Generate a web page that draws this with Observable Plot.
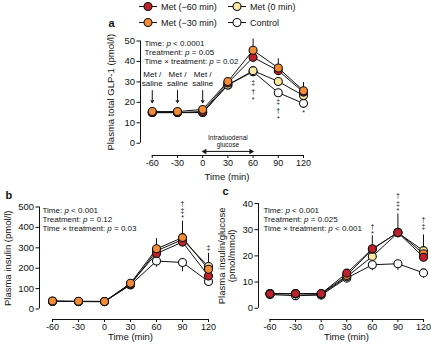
<!DOCTYPE html>
<html><head><meta charset="utf-8">
<script src="https://cdn.jsdelivr.net/npm/d3@7"></script>
<script src="https://cdn.jsdelivr.net/npm/@observablehq/plot@0.6"></script>
<style>
body{margin:0;background:#fff;font-family:"Liberation Sans",Arial,sans-serif;}
#wrap{position:relative;width:431px;height:348px;overflow:hidden;background:#fff;}
#wrap > svg{position:absolute;left:0;top:0;}
.leg{position:absolute;display:flex;align-items:center;font-size:9px;color:#111;white-space:nowrap;}
.leg svg{margin-right:4px;}
</style></head><body><div id="wrap"></div>
<script>
// ---------- data ----------
const times = [-60, -30, 0, 30, 60, 90, 120];
const seriesNames = ["Control", "Met (0 min)", "Met (−60 min)", "Met (−30 min)"];
const seriesColors = ["#ffffff", "#fbe6a2", "#c0222c", "#f28c38"];
const legendOrder = ["Met (−60 min)", "Met (0 min)", "Met (−30 min)", "Control"];

// panel a: plasma total GLP-1 (pmol/l)
const glpControl = [15, 15, 15, 28.5, 35, 24.7, 19.5];
const glpMet0    = [15, 15, 15, 28.5, 35.5, 30.2, 23.3];
const glpMet60   = [15, 15, 15.5, 29.5, 42, 35.5, 25];
const glpMet30   = [15.5, 15.5, 16.5, 30.2, 45.5, 36.8, 25.7];
const glpSemTop  = [0.6, 0.6, 0.6, 1.2, 5.5, 4.5, 4];
const glpSemCtrl = [0.5, 0.5, 0.5, 1, 1.5, 1.5, 1.2];
const glpTicks = [0, 10, 20, 30, 40, 50];
const glpStats = ["Time: p < 0.0001", "Treatment: p = 0.05", "Time × treatment: p = 0.02"];
const glpSymTime = [60, 60, 60, 90, 90, 90, 120];
const glpSymY    = [29.7, 25.3, 21.1, 20.1, 16, 11.9, 14.7];
const glpSymText = ["‡", "†", "*", "‡", "†", "*", "*"];
const metTimes = [-60, -30, 0];

// panel b: plasma insulin (pmol/l)
const insControl = [38, 36, 36, 118, 235, 228, 135];
const insMet0    = [38, 37, 37, 120, 285, 340, 208];
const insMet60   = [37, 37, 36, 124, 272, 328, 162];
const insMet30   = [39, 38, 37, 126, 295, 350, 195];
const insSemTop  = [3, 3, 3, 10, 50, 80, 65];
const insSemCtrl = [3, 3, 3, 8, 30, 45, 12];
const insTicks = [0, 100, 200, 300, 400, 500];
const insStats = ["Time: p < 0.001", "Treatment: p = 0.12", "Time × treatment: p = 0.03"];
const insSymTime = [90, 90, 90, 120];
const insSymY    = [516, 481, 446, 298];
const insSymText = ["†", "‡", "*", "‡"];

// panel c: insulin/glucose (pmol/mmol)
const ratControl = [5.2, 4.8, 5.0, 11.5, 16.6, 17, 13.5];
const ratMet0    = [5.5, 5.5, 5.3, 12, 19.8, 28.8, 22];
const ratMet30   = [5.6, 5.6, 5.5, 12.5, 22.5, 29, 20.8];
const ratMet60   = [5.5, 5.6, 5.6, 13.4, 22.7, 28.9, 19.5];
const ratSemTop  = [0.4, 0.4, 0.4, 1, 5, 7, 6];
const ratSemCtrl = [0.3, 0.3, 0.3, 0.8, 2.3, 2.5, 2];
const ratTicks = [0, 10, 20, 30, 40];
const ratStats = ["Time: p < 0.001", "Treatment: p = 0.025", "Time × treatment: p < 0.001"];
const ratSymTime = [60, 60, 90, 90, 90, 120, 120];
const ratSymY    = [31.3, 28.4, 42.8, 40, 37.2, 33.9, 31];
const ratSymText = ["†", "*", "†", "‡", "*", "†", "‡"];

// ---------- helpers ----------
const FONT = "Liberation Sans, Arial, sans-serif";
function tidy(bySeries, order) {
  const out = [];
  for (const name of order) bySeries[name].forEach((v, i) => out.push({series: name, time: times[i], value: v}));
  return out;
}
function topBars(bySeries, sem, names) {
  return times.map((t, i) => {
    const top = d3.max(names, n => bySeries[n][i]);
    return {time: t, y1: top, y2: top + sem[i]};
  });
}
function ctrlBars(vals, sem) {
  return times.map((t, i) => ({time: t, y1: vals[i], y2: vals[i] - sem[i]}));
}
const metNames = ["Met (0 min)", "Met (−60 min)", "Met (−30 min)"];

function panel(o) {
  const data = tidy(o.series, o.order);
  const syms = o.symTime.map((t, i) => ({time: t, y: o.symY[i], s: o.symText[i]}));
  const marks = [
    Plot.ruleX([o.xmin], {y1: 0, y2: o.yTicks[o.yTicks.length - 1], stroke: "#111", strokeWidth: 1}),
    Plot.ruleY([o.ymin], {x1: times[0], x2: times[times.length - 1], stroke: "#111", strokeWidth: 1}),
    Plot.axisY({ticks: o.yTicks, tickSize: 3.5, tickPadding: 2, fontSize: 9.5, label: null, tickFormat: d => String(d)}),
    Plot.axisX({ticks: times, tickSize: 3, tickPadding: 1.5, fontSize: 9, label: null, tickFormat: d => String(d)}),
    Plot.ruleX(topBars(o.series, o.semTop, metNames), {x: "time", y1: "y1", y2: "y2", stroke: "#111", strokeWidth: 1}),
    Plot.ruleX(ctrlBars(o.series["Control"], o.semCtrl), {x: "time", y1: "y1", y2: "y2", stroke: "#111", strokeWidth: 1}),
    Plot.line(data, {x: "time", y: "value", z: "series", stroke: "#111", strokeWidth: 1}),
    Plot.dot(data, {x: "time", y: "value", fill: "series", stroke: "#111", strokeWidth: 1.1, r: 4}),
    Plot.text(syms, {x: "time", y: "y", text: "s", fontSize: 7, fill: "#111"}),
    Plot.text([o.stats.join("\n")], {frameAnchor: "top-left", dx: o.statDx, dy: o.statDy, lineAnchor: "top", textAnchor: "start", lineHeight: 1.12, fontSize: 8, className: "stats", fill: "#111"}),
    Plot.text([o.letter], {frameAnchor: "top-left", dx: o.letDx, dy: o.letDy, lineAnchor: "middle", fontSize: 11, fontWeight: "bold", fill: "#111"}),
    Plot.text([o.ylabel], {frameAnchor: "left", textAnchor: "middle", lineAnchor: "middle", dx: o.ylDx, dy: o.ylDy, rotate: -90, fontSize: 9.5, lineHeight: 1.1, fill: "#111"}),
    Plot.text(["Time (min)"], {frameAnchor: "bottom", textAnchor: "middle", lineAnchor: "middle", dx: o.xlDx, dy: o.xlDy, fontSize: 9.5, fill: "#111"}),
    ...(o.extra || [])
  ];
  const svg = Plot.plot({
    width: 431, height: 348,
    marginLeft: o.m[0], marginRight: o.m[1], marginTop: o.m[2], marginBottom: o.m[3],
    x: {domain: [o.xmin, 120]},
    y: {domain: [o.ymin, o.yTicks[o.yTicks.length - 1]]},
    color: {domain: seriesNames, range: seriesColors},
    style: {fontFamily: FONT, background: "transparent", overflow: "visible", color: "#111"},
    marks
  });
  svg.querySelectorAll("g[aria-label=text] text").forEach(t => {
    const parts = t.querySelectorAll("tspan");
    const targets = parts.length ? parts : [t];
    targets.forEach(el => {
      if (/ p [<=]/.test(el.textContent)) {
        el.innerHTML = el.textContent.replace(/ p ([<=])/, ' <tspan font-style="italic">p</tspan> $1');
      }
    });
  });
  return svg;
}

const wrap = document.getElementById("wrap");

// panel a
wrap.appendChild(panel({
  series: {"Control": glpControl, "Met (0 min)": glpMet0, "Met (−60 min)": glpMet60, "Met (−30 min)": glpMet30},
  order: ["Control", "Met (0 min)", "Met (−60 min)", "Met (−30 min)"],
  semTop: glpSemTop, semCtrl: glpSemCtrl, yTicks: glpTicks, stats: glpStats,
  symTime: glpSymTime, symY: glpSymY, symText: glpSymText,
  xmin: -74, ymin: -6, m: [140, 128, 40.5, 193],
  statDx: 4, statDy: -1.5, letter: "a", letDx: -32, letDy: -17.5,
  ylabel: "Plasma total GLP-1 (pmol/l)", ylDx: -30, ylDy: -6,
  xlDx: 5, xlDy: 21,
  extra: [
    Plot.text(metTimes, {x: d => d, y: 31.7, text: () => "Met /\nsaline", fontSize: 8, lineHeight: 1.15, fill: "#111"}),
    Plot.arrow(metTimes, {x1: d => d, x2: d => d, y1: 25.8, y2: 19.8, headLength: 4, strokeWidth: 1, stroke: "#111"}),
    Plot.text(["Intraduodenal\nglucose"], {x: 30, y: 1, fontSize: 6.5, lineHeight: 1.15, fill: "#111"}),
    Plot.ruleY([-4], {x1: 2, x2: 58, stroke: "#111", strokeWidth: 1}),
    Plot.dot([0, 60], {x: d => d === 0 ? 2.5 : 57.5, y: -4, symbol: "triangle2", r: 2.6, rotate: d => d === 0 ? -90 : 90, fill: "#111", stroke: "none"})
  ]
}));

// panel b
wrap.appendChild(panel({
  series: {"Control": insControl, "Met (0 min)": insMet0, "Met (−60 min)": insMet60, "Met (−30 min)": insMet30},
  order: ["Control", "Met (0 min)", "Met (−60 min)", "Met (−30 min)"],
  semTop: insSemTop, semCtrl: insSemCtrl, yTicks: insTicks, stats: insStats,
  symTime: insSymTime, symY: insSymY, symText: insSymText,
  xmin: -75, ymin: -51.5, m: [39, 223, 206.5, 29],
  statDx: 3, statDy: 0, letter: "b", letDx: -34, letDy: -11.5,
  ylabel: "Plasma insulin (pmol/l)", ylDx: -32, ylDy: -5,
  xlDx: 6.5, xlDy: 17.5
}));

// panel c
wrap.appendChild(panel({
  series: {"Control": ratControl, "Met (0 min)": ratMet0, "Met (−60 min)": ratMet60, "Met (−30 min)": ratMet30},
  order: ["Control", "Met (0 min)", "Met (−30 min)", "Met (−60 min)"],
  semTop: ratSemTop, semCtrl: ratSemCtrl, yTicks: ratTicks, stats: ratStats,
  symTime: ratSymTime, symY: ratSymY, symText: ratSymText,
  xmin: -73.5, ymin: -4.3, m: [258, 8, 203, 29],
  statDx: 5, statDy: 3, letter: "c", letDx: -36, letDy: -12,
  ylabel: "Plasma insulin/glucose\n(pmol/mmol)", ylDx: -32, ylDy: -5.6,
  xlDx: 5.5, xlDy: 17.5
}));

// legend
const legPos = [[139, 1], [228, 1], [139, 17], [228, 17]];
legendOrder.forEach((name, i) => {
  const div = document.createElement("div");
  div.className = "leg";
  div.style.left = legPos[i][0] + "px";
  div.style.top = legPos[i][1] + "px";
  const col = seriesColors[seriesNames.indexOf(name)];
  div.innerHTML = `<svg width="18" height="11"><line x1="0" y1="5.5" x2="18" y2="5.5" stroke="#111" stroke-width="1"/><circle cx="9" cy="5.5" r="4" fill="${col}" stroke="#111" stroke-width="1.1"/></svg><span>${name}</span>`;
  wrap.appendChild(div);
});
</script></body></html>
